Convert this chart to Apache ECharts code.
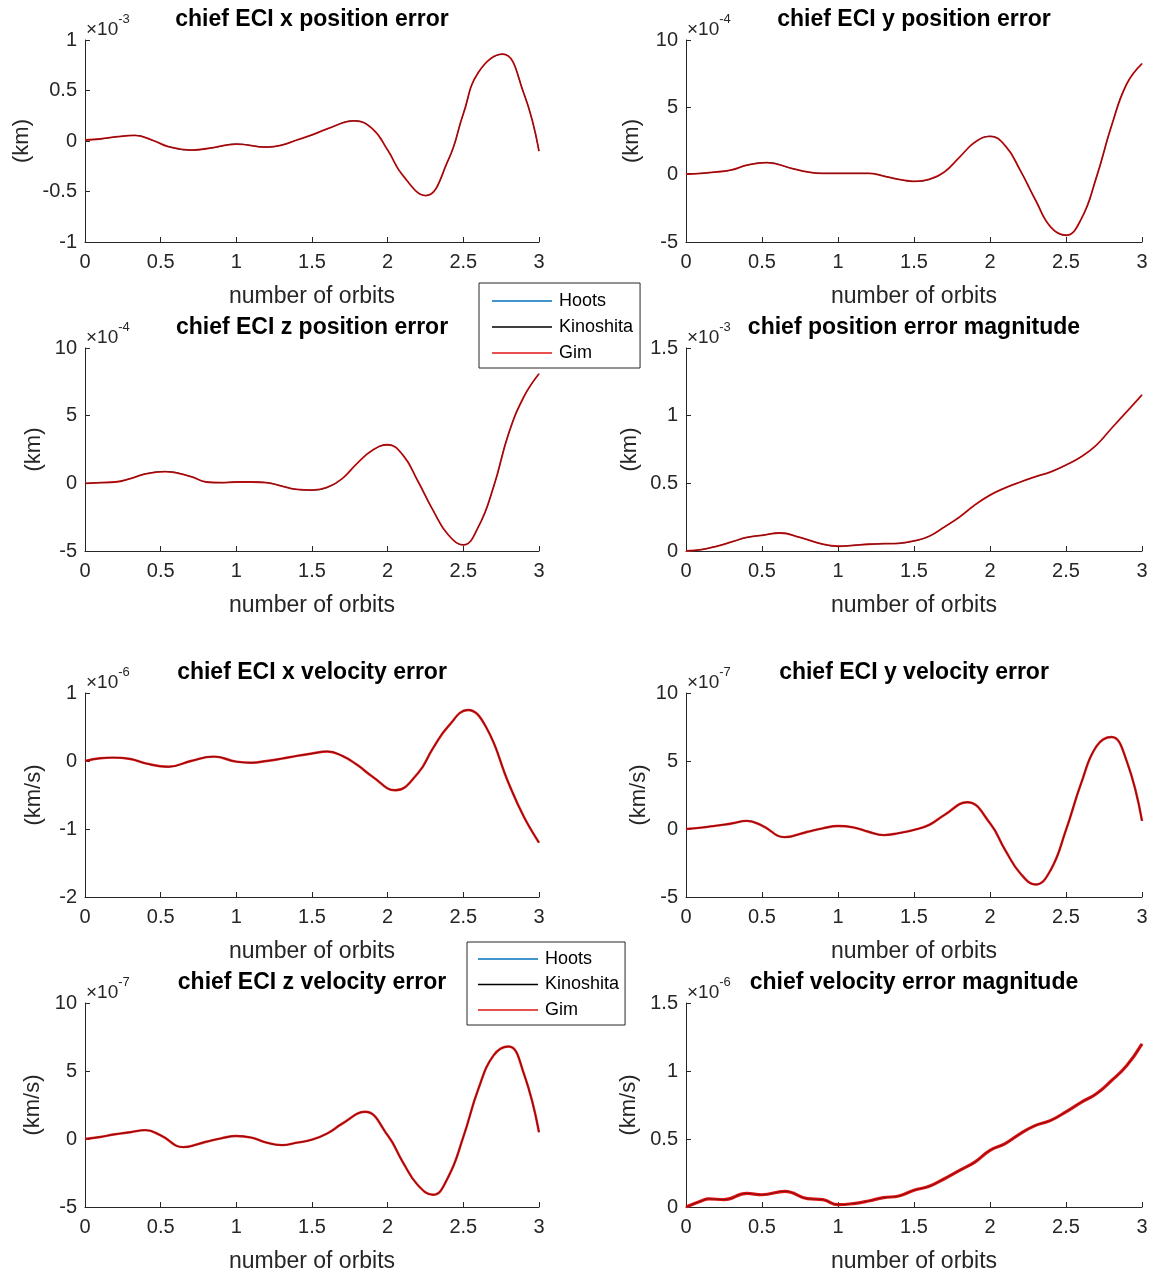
<!DOCTYPE html>
<html>
<head>
<meta charset="utf-8">
<script src="https://cdn.jsdelivr.net/npm/echarts@6/dist/echarts.min.js"></script>
<style>
  html, body { margin: 0; padding: 0; background: #ffffff; }
  #chart { width: 1156px; height: 1274px; }
</style>
</head>
<body>
<div id="chart"></div>
<script>
// ---- propagation error data (values in the scaled units shown on each axis) ----
const methods = ['Hoots', 'Kinoshita', 'Gim'];
const xTicks = [0, 0.5, 1, 1.5, 2, 2.5, 3];

// chief ECI x position error, x10^-3 km
const posXOrbits = [0, 0.1, 0.2, 0.33, 0.45, 0.55, 0.7, 0.85, 1.0, 1.2, 1.3, 1.4, 1.5, 1.6, 1.78, 1.9, 2.0, 2.1, 2.25, 2.4, 2.5, 2.6, 2.76, 2.9, 3.0];
const posXErr = [0.01, 0.02, 0.04, 0.055, 0.005, -0.055, -0.09, -0.065, -0.03, -0.06, -0.04, 0.01, 0.06, 0.12, 0.2, 0.12, -0.09, -0.34, -0.54, -0.19, 0.27, 0.68, 0.86, 0.47, -0.1];

// chief ECI y / z position error, x10^-4 km
const posYZOrbits = [0, 0.1, 0.2, 0.3, 0.4, 0.53, 0.7, 0.8, 0.9, 1.0, 1.1, 1.2, 1.3, 1.4, 1.5, 1.6, 1.7, 1.8, 1.9, 2.0, 2.1, 2.2, 2.3, 2.4, 2.5, 2.6, 2.7, 2.8, 2.9, 3.0];
const posYErr = [0.05, 0.1, 0.2, 0.35, 0.7, 0.9, 0.45, 0.2, 0.1, 0.1, 0.1, 0.1, -0.1, -0.35, -0.5, -0.35, 0.2, 1.3, 2.4, 2.85, 2.15, 0.3, -1.9, -3.9, -4.5, -3.3, -0.2, 3.65, 6.75, 8.25];
const posZErr = [0, 0.05, 0.1, 0.35, 0.7, 0.87, 0.5, 0.1, 0.05, 0.1, 0.1, 0.05, -0.2, -0.45, -0.5, -0.3, 0.35, 1.5, 2.45, 2.85, 2.1, 0.15, -2.0, -3.8, -4.55, -3.2, -0.25, 3.7, 6.4, 8.1];

// chief position error magnitude, x10^-3 km
const posMagOrbits = [0, 0.1, 0.2, 0.3, 0.4, 0.5, 0.62, 0.75, 0.9, 1.0, 1.1, 1.2, 1.3, 1.4, 1.5, 1.6, 1.7, 1.8, 1.9, 2.0, 2.1, 2.2, 2.3, 2.4, 2.5, 2.6, 2.7, 2.8, 2.9, 3.0];
const posMagErr = [0, 0.01, 0.035, 0.067, 0.1, 0.116, 0.133, 0.1, 0.05, 0.035, 0.042, 0.05, 0.054, 0.057, 0.074, 0.109, 0.178, 0.252, 0.34, 0.413, 0.467, 0.51, 0.549, 0.585, 0.635, 0.697, 0.783, 0.907, 1.03, 1.154];

// chief ECI x velocity error, x10^-6 km/s
const velXOrbits = [0, 0.1, 0.18, 0.3, 0.4, 0.55, 0.7, 0.85, 1.0, 1.1, 1.2, 1.3, 1.4, 1.5, 1.6, 1.7, 1.8, 1.9, 2.05, 2.2, 2.3, 2.4, 2.53, 2.65, 2.8, 2.9, 3.0];
const velXErr = [0, 0.04, 0.05, 0.03, -0.035, -0.085, 0, 0.065, -0.01, -0.025, 0, 0.035, 0.075, 0.11, 0.14, 0.075, -0.06, -0.23, -0.43, -0.18, 0.19, 0.51, 0.75, 0.5, -0.33, -0.82, -1.2];

// chief ECI y / z velocity error, x10^-7 km/s
const velYZOrbits = [0, 0.1, 0.2, 0.3, 0.4, 0.5, 0.65, 0.8, 0.9, 1.0, 1.1, 1.2, 1.3, 1.4, 1.5, 1.6, 1.7, 1.85, 2.0, 2.1, 2.2, 2.3, 2.4, 2.5, 2.6, 2.7, 2.8, 2.9, 3.0];
const velYErr = [0, 0.1, 0.25, 0.4, 0.6, 0.25, -0.6, -0.2, 0.05, 0.22, 0.12, -0.2, -0.45, -0.3, -0.07, 0.3, 1.03, 1.97, 0.42, -1.55, -3.27, -4.08, -3.0, -0.07, 3.37, 6.07, 6.76, 4.97, 0.6];
const velZErr = [0, 0.15, 0.35, 0.5, 0.65, 0.27, -0.6, -0.2, 0.05, 0.22, 0.1, -0.27, -0.45, -0.27, -0.05, 0.4, 1.13, 2.0, 0.27, -1.7, -3.4, -4.1, -2.8, 0.15, 3.7, 6.15, 6.8, 4.8, 0.5];

// chief velocity error magnitude, x10^-6 km/s
const velMagOrbits = [0, 0.1, 0.15, 0.25, 0.4, 0.5, 0.65, 0.8, 0.9, 1.0, 1.1, 1.2, 1.3, 1.4, 1.5, 1.6, 1.7, 1.8, 1.9, 2.0, 2.1, 2.2, 2.3, 2.4, 2.5, 2.6, 2.7, 2.8, 2.9, 3.0];
const velMagErr = [0, 0.044, 0.06, 0.054, 0.1, 0.09, 0.115, 0.061, 0.054, 0.017, 0.025, 0.044, 0.069, 0.081, 0.123, 0.152, 0.208, 0.27, 0.33, 0.417, 0.466, 0.54, 0.6, 0.637, 0.7, 0.77, 0.833, 0.93, 1.04, 1.2];

// ---- panel layout ----
const FONT = '"Liberation Sans", Arial, Helvetica, sans-serif';
const INK = '#262626';
const colL = { left: 85, width: 454 };
const colR = { left: 686, width: 456 };

const panels = [
  { title: 'chief ECI x position error', exp: '-3', unit: '(km)', min: -1, max: 1, step: 0.5,
    x: posXOrbits, y: posXErr, col: colL, top: 40, height: 202, yGap: 52, gimWidth: 1.8 },
  { title: 'chief ECI y position error', exp: '-4', unit: '(km)', min: -5, max: 10, step: 5,
    x: posYZOrbits, y: posYErr, col: colR, top: 40, height: 202, yGap: 43, gimWidth: 1.8 },
  { title: 'chief ECI z position error', exp: '-4', unit: '(km)', min: -5, max: 10, step: 5,
    x: posYZOrbits, y: posZErr, col: colL, top: 348, height: 203, yGap: 40, gimWidth: 1.8 },
  { title: 'chief position error magnitude', exp: '-3', unit: '(km)', min: 0, max: 1.5, step: 0.5,
    x: posMagOrbits, y: posMagErr, col: colR, top: 348, height: 203, yGap: 45, gimWidth: 1.8 },
  { title: 'chief ECI x velocity error', exp: '-6', unit: '(km/s)', min: -2, max: 1, step: 1,
    x: velXOrbits, y: velXErr, col: colL, top: 693, height: 204, yGap: 40, gimWidth: 2.4 },
  { title: 'chief ECI y velocity error', exp: '-7', unit: '(km/s)', min: -5, max: 10, step: 5,
    x: velYZOrbits, y: velYErr, col: colR, top: 693, height: 204, yGap: 36, gimWidth: 2.4 },
  { title: 'chief ECI z velocity error', exp: '-7', unit: '(km/s)', min: -5, max: 10, step: 5,
    x: velYZOrbits, y: velZErr, col: colL, top: 1003, height: 204, yGap: 41, gimWidth: 2.4 },
  { title: 'chief velocity error magnitude', exp: '-6', unit: '(km/s)', min: 0, max: 1.5, step: 0.5,
    x: velMagOrbits, y: velMagErr, col: colR, top: 1003, height: 204, yGap: 46, gimWidth: 3.2 }
];

const lineColors = { Hoots: '#0072BD', Kinoshita: '#000000', Gim: '#e01414' };

const grid = [], xAxis = [], yAxis = [], title = [], series = [];

panels.forEach((p, i) => {
  grid.push({ left: p.col.left, top: p.top, width: p.col.width, height: p.height, containLabel: false });

  xAxis.push({
    gridIndex: i, type: 'value', min: xTicks[0], max: xTicks[xTicks.length - 1], interval: xTicks[1] - xTicks[0],
    axisLine: { show: true, onZero: false, lineStyle: { color: INK, width: 1 } },
    axisTick: { show: true, inside: true, length: 5, lineStyle: { color: INK } },
    axisLabel: { fontSize: 20, color: INK, margin: 10, fontFamily: FONT },
    splitLine: { show: false },
    name: 'number of orbits', nameLocation: 'middle', nameGap: 43,
    nameTextStyle: { fontSize: 23, color: INK, fontFamily: FONT }
  });

  yAxis.push({
    gridIndex: i, type: 'value', min: p.min, max: p.max, interval: p.step,
    axisLine: { show: true, onZero: false, lineStyle: { color: INK, width: 1 } },
    axisTick: { show: true, inside: true, length: 5, lineStyle: { color: INK } },
    axisLabel: { fontSize: 20, color: INK, margin: 8, fontFamily: FONT },
    splitLine: { show: false },
    name: p.unit, nameLocation: 'middle', nameRotate: 90, nameGap: p.yGap,
    nameTextStyle: { fontSize: 22, color: INK, fontFamily: FONT }
  });

  // panel heading
  title.push({
    text: p.title, left: p.col.left + p.col.width / 2, top: p.top - 32, textAlign: 'center', padding: 0,
    textStyle: { fontSize: 23, fontWeight: 'bold', color: '#000', fontFamily: FONT, lineHeight: 24 }
  });
  // axis exponent marker
  title.push({
    text: '{m|×10}{e|' + p.exp + '}', left: p.col.left + 1, top: p.top - 27, padding: 0,
    textStyle: {
      fontWeight: 'normal',
      rich: {
        m: { fontSize: 19, fontWeight: 'normal', color: INK, fontFamily: FONT, lineHeight: 26, verticalAlign: 'bottom' },
        e: { fontSize: 13, fontWeight: 'normal', color: INK, fontFamily: FONT, lineHeight: 14, verticalAlign: 'top' }
      }
    }
  });

  const pts = p.x.map((v, k) => [v, p.y[k]]);
  methods.forEach((m) => {
    const isGim = m === 'Gim';
    series.push({
      name: m, type: 'line', xAxisIndex: i, yAxisIndex: i, data: pts,
      symbol: 'none', smooth: 0.45, silent: true,
      z: isGim ? 3 : (m === 'Kinoshita' ? 4 : 2),
      itemStyle: { color: lineColors[m] },
      lineStyle: {
        color: lineColors[m],
        width: isGim ? p.gimWidth : (m === 'Kinoshita' ? 0.7 : 1),
        opacity: m === 'Kinoshita' ? 0.6 : 1
      }
    });
  });
});

const legendBase = {
  orient: 'vertical', icon: 'rect', itemWidth: 60, itemHeight: 1.5, selectedMode: false,
  borderColor: INK, borderWidth: 1, backgroundColor: '#ffffff',
  textStyle: { fontSize: 18, color: '#000', fontFamily: FONT, lineHeight: 18, padding: [0, 0, 0, 2] },
  data: methods
};

const option = {
  backgroundColor: '#ffffff',
  animation: false,
  title: title,
  grid: grid,
  xAxis: xAxis,
  yAxis: yAxis,
  legend: [
    Object.assign({}, legendBase, { left: 479, top: 283, padding: [9, 7, 6, 13], itemGap: 8 }),
    Object.assign({}, legendBase, { left: 467, top: 942, padding: [8, 6, 6, 11], itemGap: 7.5 })
  ],
  series: series
};

const chart = echarts.init(document.getElementById('chart'), null, { renderer: 'canvas' });
chart.setOption(option);
</script>
</body>
</html>
